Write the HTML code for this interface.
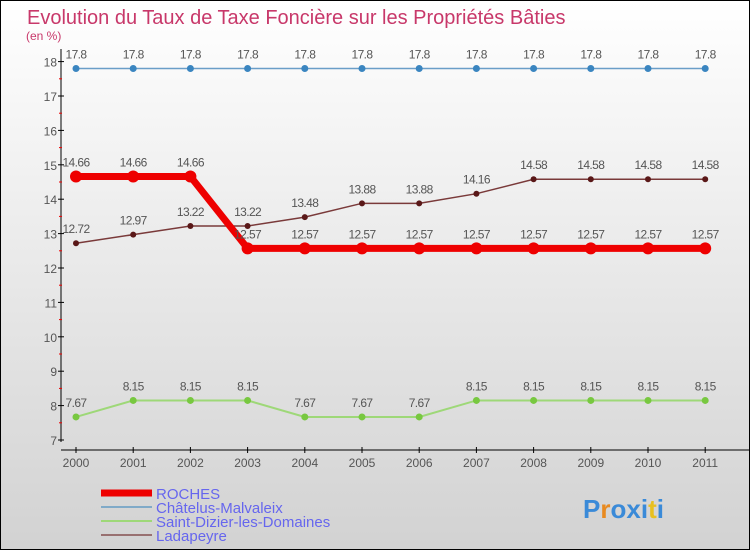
<!DOCTYPE html>
<html><head><meta charset="utf-8"><style>
body{margin:0}
#c{position:relative;width:748px;height:548px;border:1px solid #000;background:linear-gradient(#fff,#d2d2d2);font-family:"Liberation Sans",sans-serif;overflow:hidden}
</style></head><body>
<div id="c">
<svg id="s" width="748" height="548"></svg>
</div>
<script>
const years=[2000,2001,2002,2003,2004,2005,2006,2007,2008,2009,2010,2011];
const roches=[14.66,14.66,14.66,12.57,12.57,12.57,12.57,12.57,12.57,12.57,12.57,12.57];
const chatelus=[17.8,17.8,17.8,17.8,17.8,17.8,17.8,17.8,17.8,17.8,17.8,17.8];
const saintDizier=[7.67,8.15,8.15,8.15,7.67,7.67,7.67,8.15,8.15,8.15,8.15,8.15];
const ladapeyre=[12.72,12.97,13.22,13.22,13.48,13.88,13.88,14.16,14.58,14.58,14.58,14.58];
const yTicks=[7,8,9,10,11,12,13,14,15,16,17,18];
const names=["ROCHES","Châtelus-Malvaleix","Saint-Dizier-les-Domaines","Ladapeyre"];
const ns="http://www.w3.org/2000/svg",s=document.getElementById('s');
const X=i=>75+i*57.2, Y=v=>439-(v-7)*34.4;
function el(t,a,p){const e=document.createElementNS(ns,t);for(const k in a)e.setAttribute(k,a[k]);(p||s).appendChild(e);return e;}
function tx(x,y,str,a,p){const e=el('text',Object.assign({x:x,y:y},a),p);e.textContent=str;return e;}
let t=tx(26,23,"Evolution du Taux de Taxe Foncière sur les Propriétés Bâties",{'font-size':20,fill:'#c8386a'});

t=tx(25,39,"(en %)",{'font-size':12,fill:'#c8386a'});

let a=el('line',{x1:60,y1:48,x2:60,y2:441,stroke:'#000'});
a=el('line',{x1:60,y1:449,x2:748,y2:449,stroke:'#000'});
yTicks.forEach(v=>{el('line',{x1:57,y1:Y(v),x2:63,y2:Y(v),stroke:'#000'});
 if(v<18)el('line',{x1:58,y1:Y(v+0.5),x2:61,y2:Y(v+0.5),stroke:'#e00'});
 const l=tx(56,Y(v)+5,v,{'font-size':12,fill:'#555','text-anchor':'end'});
 });
years.forEach((y,i)=>{el('line',{x1:X(i),y1:446,x2:X(i),y2:452,stroke:'#000'});
 const l=tx(X(i),466,y,{'font-size':12,fill:'#555','text-anchor':'middle'});
 });
function series(d,col,w,r,fillc,name){
 const g=el('g',{});
 el('polyline',{points:d.map((v,i)=>X(i)+','+Y(v)).join(' '),fill:'none',stroke:col,'stroke-width':w},g);
 d.forEach((v,i)=>{const c=el('circle',{cx:X(i),cy:Y(v),r:r,fill:fillc},g);
  
  tx(X(i),Y(v)-10,v,{'font-size':12,fill:'#555','text-anchor':'middle','letter-spacing':'-0.6'},g);});
}
series(chatelus,'#6a9ec8',1.5,3.5,'#3a85c0','chatelus');
series(saintDizier,'#9ed878',2,3.5,'#78c840','saint-dizier');
series(ladapeyre,'#7a3a3a',1.5,3,'#5a1818','ladapeyre');
series(roches,'#ee0000',7,6,'#ee0000','roches');
const lc=['#ee0000','#80aac8','#9ed878','#987070'],lw=[7,2,2,2];
names.forEach((n,i)=>{const y=492+i*14;
 const g=el('g',{});
 el('line',{x1:100,y1:y,x2:151,y2:y,stroke:lc[i],'stroke-width':lw[i]},g);
 tx(155,y+6,n,{'font-size':15,fill:'#6666ee'},g);});
const lg=el('text',{x:582,y:517,'font-size':26,'font-weight':'bold'});

const lcol=['#3a8ad8','#e88a20','#3a8ad8','#3a8ad8','#3a8ad8','#e8c020','#3a8ad8'];
"Proxiti".split('').forEach((ch,i)=>{const sp=el('tspan',{fill:lcol[i]},lg);sp.textContent=ch;});
</script>
</body></html>
